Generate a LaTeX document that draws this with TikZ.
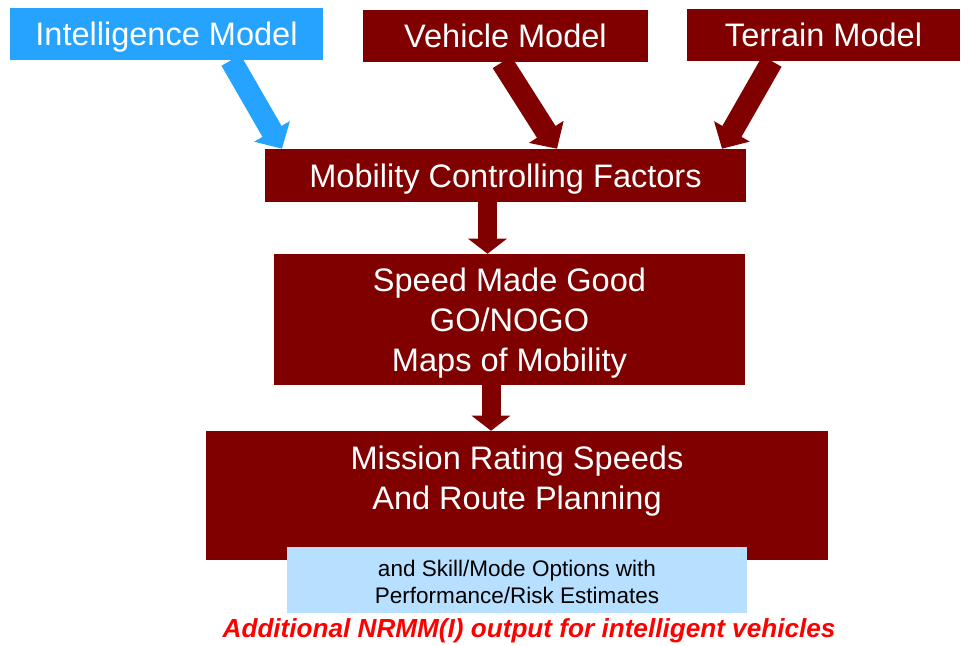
\documentclass[tikz,border=0pt]{standalone}
\usepackage{fontspec}
\setmainfont{Liberation Sans}
\usetikzlibrary{arrows.meta,calc}

\definecolor{darkred}{RGB}{128,0,0}
\definecolor{intelblue}{RGB}{38,163,255}
\definecolor{paleblue}{RGB}{183,223,255}
\definecolor{notered}{RGB}{255,0,0}

\begin{document}
\begin{tikzpicture}[x=0.75pt,y=-0.75pt,
        boxtext/.style={text=white, inner sep=0pt, align=center,
            font=\fontsize{24.4}{30}\selectfont},
        redbox/.style={boxtext, fill=darkred, text height=17.5pt, text depth=0pt},
        bluebox/.style={redbox, fill=intelblue},
        palebox/.style={fill=paleblue, text=black, inner sep=0pt, align=center,
            font=\fontsize{16.9}{20.3}\selectfont},
        slantarrow/.style={line width=16.5pt, -{Triangle[length=15pt,width=30pt]}},
        downarrow/.style={draw=darkred, line width=14.25pt,
            -{Triangle[length=11.25pt,width=28.5pt]}}]
    \useasboundingbox (0,0) rectangle (962,645);

    % Model boxes
    \node[bluebox, minimum width=234.75pt, minimum height=39pt] (intel) at (166.5,34) {Intelligence Model};
    \node[redbox, minimum width=213.75pt, minimum height=39pt] (vehicle) at (505.5,36) {Vehicle Model};
    \node[redbox, minimum width=204.75pt, minimum height=39pt] (terrain) at (823.5,35) {Terrain Model};

    % Processing chain
    \node[redbox, minimum width=360.75pt, minimum height=39.75pt] (mcf) at (505.5,175.5) {Mobility Controlling Factors};
    \node[redbox, minimum width=353.25pt, minimum height=98.25pt] (smg) at (509.5,319.5) {};
    \node[boxtext] (smgtext) at (509.5,323.5) {Speed Made Good\\GO/NOGO\\Maps of Mobility};
    \node[redbox, minimum width=466.5pt, minimum height=96.75pt] (mrs) at (517,495.5) {};
    \node[boxtext] (mrstext) at (517,481) {Mission Rating Speeds\\And Route Planning};
    \node[palebox, minimum width=345pt, minimum height=49.5pt] (skill) at (517,580) {};
    \node[palebox] (skilltext) at (517,581.5) {and Skill/Mode Options with\\Performance/Risk Estimates};
    \node[text=notered, font=\fontsize{19.6}{23}\selectfont\bfseries\itshape] (note) at (529,631)
        {Additional NRMM(I) output for intelligent vehicles};

    % Arrows into the factors
    \draw[slantarrow, draw=intelblue] ($(intel.south)+(64.5,0)$) -- ($(mcf.north)+(-223.5,0)$);
    \draw[slantarrow, draw=darkred] ($(vehicle.south)+(-3.5,0)$) -- ($(mcf.north)+(51.5,0)$);
    \draw[slantarrow, draw=darkred] ($(terrain.south)+(-51.5,0)$) -- ($(mcf.north)+(216.5,0)$);

    % Arrows down the chain
    \coordinate (a1) at ($(mcf.south)+(-18,0)$);
    \coordinate (a2) at ($(smg.south)+(-18.5,0)$);
    \draw[downarrow] (a1) -- (a1 |- smg.north);
    \draw[downarrow] (a2) -- (a2 |- mrs.north);
\end{tikzpicture}
\end{document}
